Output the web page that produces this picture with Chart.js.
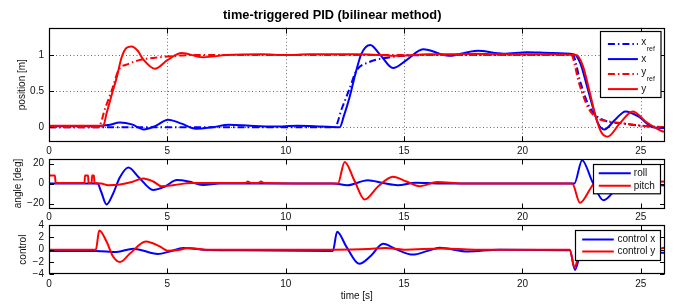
<!DOCTYPE html>
<html><head><meta charset="utf-8">
<script src="https://cdn.jsdelivr.net/npm/chart.js@4/dist/chart.umd.min.js"></script>
<style>
html,body{margin:0;padding:0;background:#fff;}
body{width:681px;height:305px;position:relative;overflow:hidden;}
canvas{position:absolute;left:0;}
</style></head>
<body>
<canvas id="c1" width="681" height="160" style="top:0px"></canvas>
<canvas id="c2" width="681" height="75" style="top:150px"></canvas>
<canvas id="c3" width="681" height="87" style="top:218px"></canvas>
<script>
// ---------- data ----------
const timeTicks = [0, 5, 10, 15, 20, 25];
const posTicks = [0, 0.5, 1];
const angleTicks = [-20, 0, 20];
const controlTicks = [-4, -2, 0, 2, 4];

const xRefT = [0, 12.07, 12.37, 12.68, 12.98, 13.5, 14.2, 15.0, 16.0, 22.12, 22.45, 22.8, 23.15, 23.6, 24.3, 25.0, 26];
const xRefV = [0, 0, 0.26, 0.52, 0.78, 0.9, 0.96, 0.99, 1.0, 1.0, 0.62, 0.3, 0.15, 0.08, 0.05, 0.02, 0];

const xT = [0, 1.0, 2.0, 2.5, 3.0, 3.5, 4.0, 4.5, 5.03, 5.6, 6.2, 6.9, 7.6, 8.5, 9.5, 10.5, 11.5, 12.28, 12.45, 12.7, 12.95, 13.2, 13.57, 14.0, 14.53, 15.1, 15.8, 16.9, 18.1, 19.2, 20.2, 21.2, 22.19, 22.45, 22.7, 22.97, 23.2, 23.46, 23.9, 24.35, 24.9, 25.5, 26];
const xV = [0.015, 0.015, 0.015, 0.03, 0.065, 0.04, -0.03, 0.02, 0.105, 0.05, -0.02, 0.0, 0.035, 0.02, 0.01, 0.02, 0.01, 0.0, 0.15, 0.42, 0.75, 1.02, 1.14, 1.0, 0.82, 0.93, 1.08, 0.99, 1.06, 1.02, 1.04, 1.03, 1.01, 0.88, 0.6, 0.28, 0.05, -0.03, 0.1, 0.22, 0.15, 0.0, -0.01];

const yRefT = [0, 2.08, 2.38, 2.68, 2.95, 3.3, 3.8, 4.4, 5.0, 6.0, 22.05, 22.4, 22.76, 23.1, 23.66, 24.37, 25.07, 26];
const yRefV = [0, 0, 0.27, 0.54, 0.8, 0.87, 0.93, 0.96, 0.98, 1.0, 1.0, 0.6, 0.28, 0.14, 0.08, 0.05, 0.02, 0];

const yT = [0, 1.0, 2.29, 2.43, 2.64, 2.86, 3.07, 3.28, 3.49, 3.75, 3.98, 4.47, 5.0, 5.6, 6.5, 7.5, 9.0, 10.0, 11.0, 12.0, 13.0, 14.0, 14.8, 16.0, 17.0, 18.0, 19.0, 20.0, 21.0, 22.27, 22.55, 22.83, 23.1, 23.35, 23.6, 24.1, 24.66, 25.2, 25.9, 26];
const yV = [0.02, 0.02, 0.02, 0.19, 0.44, 0.69, 0.97, 1.1, 1.12, 1.06, 0.94, 0.81, 0.93, 1.03, 0.97, 1.0, 1.01, 1.0, 1.01, 1.01, 1.01, 1.0, 0.99, 1.01, 1.01, 1.02, 1.01, 1.01, 1.01, 1.0, 0.85, 0.5, 0.14, -0.08, -0.13, 0.05, 0.22, 0.08, -0.055, -0.06];

const rollT = [0, 2.05, 2.2, 2.43, 2.71, 2.99, 3.35, 3.8, 4.4, 4.9, 5.4, 5.9, 6.5, 7.2, 12.0, 12.6, 13.47, 14.1, 14.73, 15.5, 16.5, 22.19, 22.52, 22.95, 23.42, 24.0, 24.5, 25.2, 26];
const rollV = [0, 0, -8, -21, -10, 6, 16, 6, -6.5, -3, 3.5, 2, -1.5, 0, 0, -1.7, 3.3, 0.5, -1.7, 0.8, 0, 0, 23.3, 2, -16.7, -4, 6, 0, -2];

const pitchT = [0, 0.25, 0.28, 1.5, 1.52, 1.65, 1.67, 1.8, 1.82, 1.9, 1.92, 2.2, 2.5, 3.0, 3.5, 3.98, 4.4, 4.75, 5.3, 6.0, 8.3, 8.4, 8.55, 8.85, 8.95, 9.1, 12.2, 12.49, 12.9, 13.33, 13.9, 14.53, 15.1, 15.65, 16.4, 17.5, 22.1, 22.43, 22.9, 23.4, 23.9, 24.5, 25.2, 26];
const pitchV = [8, 8, 0.5, 0.5, 8, 8, 0.5, 0.5, 8, 8, 0.5, 0, -1.7, -1, 1.5, 5, 2, -2.7, -1.5, 0.5, 0.5, 2, 0.5, 0.5, 2, 0.5, 0, 21.6, 3, -16, -3, 6.7, 2, -2.7, 1.5, 0, 0, -19.3, -4, 12, 2, -4, 1, 2];

const ctrlXT = [0, 2.0, 2.85, 3.56, 4.6, 5.1, 5.67, 6.5, 8.0, 11.99, 12.17, 12.56, 13.1, 13.6, 14.11, 14.7, 15.37, 16.0, 16.5, 17.7, 19.0, 22.0, 22.22, 22.45, 22.9, 23.6, 24.4, 25.1, 25.8, 26];
const ctrlXV = [-0.2, -0.2, -0.37, 0.16, -0.7, -0.3, 0.27, 0.0, -0.1, -0.2, 2.9, 0.5, -2.3, -1.0, 0.96, 0.0, -0.8, -0.2, 0.3, -0.3, 0.0, -0.1, -3.3, -0.5, 1.5, -0.5, 0.8, 0.0, -0.5, -0.5];

const ctrlYT = [0, 1.98, 2.12, 2.43, 2.7, 3.0, 3.42, 4.09, 4.68, 5.0, 5.4, 5.9, 6.6, 8.0, 12.0, 13.5, 14.2, 15.0, 16.6, 18.0, 22.0, 22.2, 22.4, 22.8, 23.5, 24.5, 25.5, 26];
const ctrlYV = [0, 0, 3.1, 1.33, -1.07, -2.0, -0.64, 1.33, 0.53, -0.16, -0.1, 0.27, 0.0, 0.0, 0.0, 0.1, 0.27, 0.0, 0.2, 0.0, 0.0, -2.9, -0.5, 1.0, -0.5, 0.5, 0.0, 0.3];

// ---------- helpers ----------
const FONT = '"Liberation Sans", Arial, Helvetica, sans-serif';
Chart.defaults.font.family = FONT;
Chart.defaults.font.size = 10;
Chart.defaults.color = '#111';

const BLUE = '#0000ff', RED = '#ff0000';
const DASHDOT = [7, 3, 1.5, 3];
const pts = (t, v) => t.map((ti, i) => ({x: ti, y: v[i]}));
const fmt = v => String(v).replace('-', '\u2212');

function series(label, t, v, color, dash, order) {
  return {
    label, data: pts(t, v), borderColor: color, backgroundColor: color,
    borderWidth: 2, borderDash: dash || [], pointRadius: 0,
    cubicInterpolationMode: 'monotone', fill: false, order, clip: 0
  };
}

const axesPlugin = {
  id: 'matlabAxes',
  beforeDatasetsDraw(chart, args, opts) {
    if (!opts.grid) return;
    const {ctx, chartArea: a, scales: {x, y}} = chart;
    ctx.save();
    ctx.strokeStyle = '#666'; ctx.lineWidth = 1; ctx.setLineDash([1, 2.5]);
    x.ticks.forEach(t => {
      const px = Math.round(x.getPixelForValue(t.value)) + 0.5;
      if (px <= a.left + 1 || px >= a.right - 1) return;
      ctx.beginPath(); ctx.moveTo(px, a.top); ctx.lineTo(px, a.bottom); ctx.stroke();
    });
    y.ticks.forEach(t => {
      const py = Math.round(y.getPixelForValue(t.value)) + 0.5;
      if (py <= a.top + 1 || py >= a.bottom - 1) return;
      ctx.beginPath(); ctx.moveTo(a.left, py); ctx.lineTo(a.right, py); ctx.stroke();
    });
    ctx.restore();
  },
  afterDatasetsDraw(chart, args, opts) {
    const {ctx, chartArea: a, scales: {x, y}} = chart;
    const L = Math.round(a.left) + 0.5, R = Math.round(a.right) - 0.5;
    const T = Math.round(a.top) + 0.5, B = Math.round(a.bottom) - 0.5;
    ctx.save();
    ctx.setLineDash([]);
    ctx.strokeStyle = '#000'; ctx.lineWidth = 1;
    const tl = 5, yl = 4.5;
    ctx.beginPath();
    x.ticks.forEach(t => {
      const px = Math.round(x.getPixelForValue(t.value)) + 0.5;
      ctx.moveTo(px, B); ctx.lineTo(px, B - tl);
      ctx.moveTo(px, T); ctx.lineTo(px, T + tl);
    });
    y.ticks.forEach(t => {
      const py = Math.round(y.getPixelForValue(t.value)) + 0.5;
      ctx.moveTo(L, py); ctx.lineTo(L + yl, py);
      ctx.moveTo(R, py); ctx.lineTo(R - yl, py);
    });
    ctx.stroke();
    ctx.lineWidth = 1.2;
    ctx.strokeRect(L, T, R - L, B - T);
    ctx.restore();
  }
};

const legendPlugin = {
  id: 'boxLegend',
  afterDraw(chart, args, o) {
    if (!o || !o.width) return;
    const {ctx, chartArea: a} = chart;
    const x1 = Math.round(a.right - o.right - o.width) + 0.5;
    const y1 = Math.round(a.top + o.top) + 0.5;
    ctx.save();
    ctx.fillStyle = '#fff';
    ctx.fillRect(x1, y1, o.width, o.height);
    ctx.strokeStyle = '#000'; ctx.lineWidth = 1.2; ctx.setLineDash([]);
    ctx.strokeRect(x1, y1, o.width, o.height);
    const ds = chart.data.datasets.slice().sort((p, q) => q.order - p.order);
    ds.forEach((d, i) => {
      const yy = y1 + o.first + i * o.step;
      ctx.strokeStyle = d.borderColor; ctx.lineWidth = 2;
      ctx.setLineDash(d.borderDash || []);
      ctx.beginPath(); ctx.moveTo(x1 + o.padX, yy); ctx.lineTo(x1 + o.padX + o.lineLen, yy); ctx.stroke();
      ctx.setLineDash([]);
      const parts = d.label.split('_');
      const tx = x1 + o.padX + o.lineLen + o.gap;
      ctx.fillStyle = '#111'; ctx.textAlign = 'left'; ctx.textBaseline = 'middle';
      ctx.font = '10px ' + FONT;
      ctx.fillText(parts[0], tx, yy - (parts[1] ? 1.5 : 0));
      if (parts[1]) {
        const w = ctx.measureText(parts[0]).width;
        ctx.font = '7px ' + FONT;
        ctx.fillText(parts[1], tx + w + 0.5, yy + 4.5);
      }
    });
    ctx.restore();
  }
};

function makeChart(id, datasets, cfg) {
  return new Chart(document.getElementById(id), {
    type: 'line',
    data: {datasets},
    plugins: [axesPlugin, legendPlugin],
    options: {
      responsive: false, animation: false, devicePixelRatio: 1,
      layout: {padding: {left: 0, right: 16.5, top: cfg.padTop, bottom: 0}, autoPadding: false},
      plugins: {
        legend: {display: false}, tooltip: {enabled: false},
        title: cfg.title ? {display: true, text: cfg.title, color: '#000',
          font: {size: 12.8, weight: 'bold', family: FONT, lineHeight: 1.2},
          padding: {top: 7.3, bottom: 5.0}} : {display: false},
        matlabAxes: {grid: cfg.grid},
        boxLegend: cfg.legend
      },
      scales: {
        x: {
          type: 'linear', min: 0, max: 26,
          grid: {display: false, drawTicks: false}, border: {display: false},
          ticks: {padding: cfg.xPad, color: '#111', font: {size: 10}, maxRotation: 0, autoSkip: false, includeBounds: false},
          afterBuildTicks: s => { s.ticks = timeTicks.map(v => ({value: v})); },
          afterFit: s => { s.height = cfg.xHeight; s.paddingLeft = 0; s.paddingRight = 0; },
          title: cfg.xTitle ? {display: true, text: cfg.xTitle, color: '#111', font: {size: 10}, padding: {top: 0, bottom: 3}} : {display: false}
        },
        y: {
          type: 'linear', min: cfg.yMin, max: cfg.yMax,
          grid: {display: false, drawTicks: false}, border: {display: false},
          ticks: {padding: 5, color: '#111', font: {size: 10}, autoSkip: false, callback: v => fmt(v)},
          afterBuildTicks: s => { s.ticks = cfg.yTicks.map(v => ({value: v})); },
          afterFit: s => { s.width = 49; s.paddingTop = 0; s.paddingBottom = 0; },
          title: {display: true, text: cfg.yTitle, color: '#111', font: {size: 10}, padding: {top: cfg.yTitlePad, bottom: 0}}
        }
      }
    }
  });
}

makeChart('c1', [
  series('x_ref', xRefT, xRefV, BLUE, DASHDOT, 4),
  series('x', xT, xV, BLUE, null, 3),
  series('y_ref', yRefT, yRefV, RED, DASHDOT, 2),
  series('y', yT, yV, RED, null, 1)
], {
  title: 'time-triggered PID (bilinear method)', padTop: 0, grid: true,
  xPad: 4, xHeight: 18.3, yMin: -0.2, yMax: 1.38, yTicks: posTicks,
  yTitle: 'position [m]', yTitlePad: 16,
  legend: {width: 60.5, height: 66, right: 4.5, top: 3, padX: 7.4, lineLen: 30, gap: 3.3, first: 12.6, step: 15}
});

makeChart('c2', [
  series('roll', rollT, rollV, BLUE, null, 2),
  series('pitch', pitchT, pitchV, RED, null, 1)
], {
  padTop: 8.5, grid: false,
  xPad: 3, xHeight: 16.5, yMin: -25, yMax: 25, yTicks: angleTicks,
  yTitle: 'angle [deg]', yTitlePad: 12,
  legend: {width: 67, height: 29.3, right: 4.5, top: 5.5, padX: 5.3, lineLen: 32, gap: 3, first: 8.7, step: 12.6}
});

makeChart('c3', [
  series('control x', ctrlXT, ctrlXV, BLUE, null, 2),
  series('control y', ctrlYT, ctrlYV, RED, null, 1)
], {
  padTop: 7, grid: false,
  xPad: 4, xHeight: 30.7, xTitle: 'time [s]', yMin: -4, yMax: 4, yTicks: controlTicks,
  yTitle: 'control', yTitlePad: 17,
  legend: {width: 85, height: 30, right: 4.5, top: 5, padX: 6.7, lineLen: 31.6, gap: 3.7, first: 9, step: 12}
});
</script>
</body></html>
